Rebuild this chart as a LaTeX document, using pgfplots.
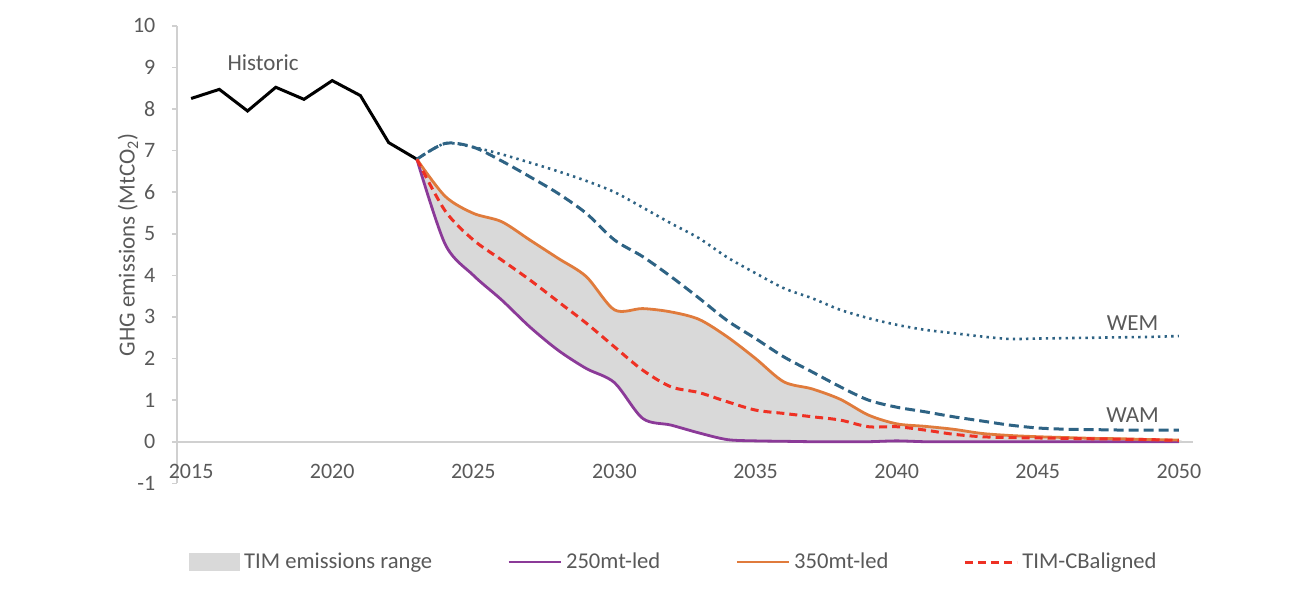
\documentclass[border=0pt]{standalone}
\usepackage{fontspec}
\setmainfont{Carlito}
\usepackage{pgfplots}
\pgfplotsset{compat=1.18}

\definecolor{txtgray}{HTML}{595959}
\definecolor{axgray}{HTML}{D0D0D0}
\definecolor{rangegray}{HTML}{D9D9D9}
\definecolor{scnblue}{HTML}{2E6384}
\definecolor{purp}{HTML}{8B3A98}
\definecolor{orng}{HTML}{E07B3C}
\definecolor{redd}{HTML}{EE3124}

\begin{document}
\begin{tikzpicture}
\path[use as bounding box] (0,0) rectangle (647pt,306pt);
\begin{axis}[
  at={(88.5pt,64.35pt)}, anchor=south west,
  scale only axis, width=508pt, height=228.8pt,
  xmin=2014.5, xmax=2050.5, ymin=-1, ymax=10,
  axis x line=middle, axis y line=left,
  axis line style={-, draw=axgray, line width=0.8pt},
  hide obscured x ticks=false, hide obscured y ticks=false,
  xtick={2015,2020,...,2050}, ytick={-1,0,...,10},
  xtick style={draw=none},
  ytick style={draw=axgray, line width=0.8pt},
  tick align=outside, major tick length=2.5pt,
  /pgf/number format/1000 sep={},
  /pgf/number format/assume math mode=true,
  tick label style={font=\fontsize{11}{13}\selectfont, text=txtgray},
  xticklabel style={yshift=-5.3pt},
  yticklabel style={xshift=-4.8pt},
  every axis y label/.style={at={(axis description cs:-0.0482,0.521)}, rotate=90, anchor=center,
    font=\fontsize{11.5}{13}\selectfont, text=txtgray},
  ylabel={GHG emissions (MtCO\textsubscript{2})},
  legend style={at={(axis description cs:0.0059,-0.172)}, anchor=west, draw=none, fill=none,
    font=\fontsize{11.3}{13}\selectfont, text=txtgray, legend columns=4,
    /tikz/every even column/.append style={column sep=35.5pt}},
  legend cell align=left,
  legend image code/.code={\draw[#1] (0pt,0pt) -- (26pt,0pt);},
]
% TIM emissions range: 250mt-led forward, 350mt-led back
\addplot[fill=rangegray, draw=none, smooth, forget plot] coordinates {
  (2023,6.79) (2024,4.75) (2025,4.00) (2026,3.41) (2027,2.76) (2028,2.20) (2029,1.76)
  (2030,1.42) (2031,0.56) (2032,0.40) (2033,0.21) (2034,0.05) (2035,0.02) (2036,0.01)
  (2037,0.00) (2038,0.00) (2039,0.00) (2040,0.02) (2041,0.00) (2042,0.00) (2043,0.00)
  (2044,0.00) (2045,0.00) (2046,0.00) (2047,0.00) (2048,0.00) (2049,0.00) (2050,0.00)
  (2050,0.04) (2049,0.05) (2048,0.07) (2047,0.08) (2046,0.10) (2045,0.12) (2044,0.15)
  (2043,0.20) (2042,0.30) (2041,0.37) (2040,0.43) (2039,0.64) (2038,1.02) (2037,1.27)
  (2036,1.44) (2035,2.00) (2034,2.52) (2033,2.94) (2032,3.12) (2031,3.20) (2030,3.17)
  (2029,3.97) (2028,4.41) (2027,4.85) (2026,5.29) (2025,5.49) (2024,5.90) (2023,6.79)};
% historic
\addplot[black, line width=1.5pt, forget plot] coordinates {
  (2015,8.25) (2016,8.47) (2017,7.95) (2018,8.52) (2019,8.23)
  (2020,8.68) (2021,8.32) (2022,7.19) (2023,6.79)};
% WEM
\addplot[scnblue, line width=1.3pt, dash pattern=on 1.2pt off 2.1pt, smooth, forget plot] coordinates {
  (2023,6.79) (2024,7.17) (2025,7.08) (2026,6.91) (2027,6.71) (2028,6.50) (2029,6.27)
  (2030,6.00) (2031,5.63) (2032,5.25) (2033,4.89) (2034,4.43) (2035,4.05) (2036,3.69)
  (2037,3.45) (2038,3.17) (2039,2.97) (2040,2.81) (2041,2.69) (2042,2.61) (2043,2.53)
  (2044,2.47) (2045,2.48) (2046,2.49) (2047,2.50) (2048,2.51) (2049,2.52) (2050,2.54)};
% WAM
\addplot[scnblue, line width=1.5pt, dash pattern=on 5pt off 2.5pt, smooth, forget plot] coordinates {
  (2023,6.79) (2024,7.17) (2025,7.08) (2026,6.75) (2027,6.37) (2028,5.97) (2029,5.49)
  (2030,4.85) (2031,4.45) (2032,3.97) (2033,3.45) (2034,2.91) (2035,2.48) (2036,2.04)
  (2037,1.68) (2038,1.32) (2039,1.00) (2040,0.83) (2041,0.72) (2042,0.60) (2043,0.50)
  (2044,0.40) (2045,0.33) (2046,0.30) (2047,0.29) (2048,0.28) (2049,0.28) (2050,0.28)};
\addlegendimage{legend image code/.code={\fill[rangegray] (0pt,-4.25pt) rectangle (25pt,4.25pt);}}
\addlegendentry{TIM emissions range}
% 250mt-led
\addplot[purp, line width=1.4pt, smooth] coordinates {
  (2023,6.79) (2024,4.75) (2025,4.00) (2026,3.41) (2027,2.76) (2028,2.20) (2029,1.76)
  (2030,1.42) (2031,0.56) (2032,0.40) (2033,0.21) (2034,0.05) (2035,0.02) (2036,0.01)
  (2037,0.00) (2038,0.00) (2039,0.00) (2040,0.02) (2041,0.00) (2042,0.00) (2043,0.00)
  (2044,0.00) (2045,0.00) (2046,0.00) (2047,0.00) (2048,0.00) (2049,0.00) (2050,0.00)};
\addlegendentry{250mt-led}
% 350mt-led
\addplot[orng, line width=1.4pt, smooth] coordinates {
  (2023,6.79) (2024,5.90) (2025,5.49) (2026,5.29) (2027,4.85) (2028,4.41) (2029,3.97)
  (2030,3.17) (2031,3.20) (2032,3.12) (2033,2.94) (2034,2.52) (2035,2.00) (2036,1.44)
  (2037,1.27) (2038,1.02) (2039,0.64) (2040,0.43) (2041,0.37) (2042,0.30) (2043,0.20)
  (2044,0.15) (2045,0.12) (2046,0.10) (2047,0.08) (2048,0.07) (2049,0.05) (2050,0.04)};
\addlegendentry{350mt-led}
% TIM-CBaligned
\addplot[redd, line width=1.5pt, dash pattern=on 4pt off 2.5pt, smooth] coordinates {
  (2023,6.79) (2024,5.55) (2025,4.85) (2026,4.37) (2027,3.89) (2028,3.37) (2029,2.85)
  (2030,2.28) (2031,1.72) (2032,1.32) (2033,1.18) (2034,0.96) (2035,0.76) (2036,0.68)
  (2037,0.60) (2038,0.52) (2039,0.36) (2040,0.36) (2041,0.28) (2042,0.18) (2043,0.12)
  (2044,0.10) (2045,0.09) (2046,0.08) (2047,0.07) (2048,0.06) (2049,0.05) (2050,0.03)};
\addlegendentry{TIM-CBaligned}
\node[text=txtgray, font=\fontsize{11.5}{13}\selectfont] at (axis cs:2017.55,9.1) {Historic};
\node[text=txtgray, font=\fontsize{11.5}{13}\selectfont] at (axis cs:2048.36,2.85) {WEM};
\node[text=txtgray, font=\fontsize{11.5}{13}\selectfont] at (axis cs:2048.36,0.64) {WAM};
\end{axis}
\end{tikzpicture}
\end{document}
